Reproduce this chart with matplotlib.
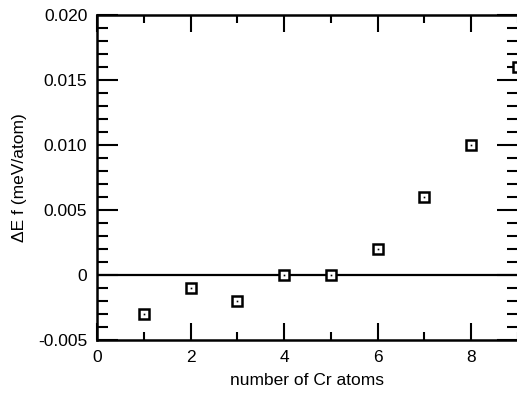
import matplotlib
matplotlib.use("Agg")
import matplotlib.pyplot as plt
from matplotlib.ticker import MultipleLocator, FixedFormatter, FixedLocator

# data
n_cr = [1, 2, 3, 4, 5, 6, 7, 8, 9]
delta_ef = [-0.003, -0.001, -0.002, 0.0, 0.0, 0.002, 0.006, 0.010, 0.016]

y_ticks = [-0.005, 0.0, 0.005, 0.010, 0.015, 0.020]
y_labels = ["-0.005", "0", "0.005", "0.010", "0.015", "0.020"]
x_ticks = [0, 2, 4, 6, 8]

plt.rcParams['font.family'] = ['Liberation Sans', 'DejaVu Sans']

W, H = 517, 399
fig = plt.figure(figsize=(W / 100, H / 100), dpi=100)
ax = fig.add_axes([97 / W, (H - 340) / H, (518 - 97) / W, 325 / H])

ax.axhline(0, color='black', lw=1.6, zorder=1)
ax.plot(n_cr, delta_ef, ls='none', marker='s', ms=6.5, mfc='white',
        mec='black', mew=1.8, clip_on=False, zorder=3)
ax.plot(n_cr, delta_ef, ls='none', marker='s', ms=1.2, mfc='black',
        mec='black', mew=0, clip_on=False, zorder=4)

ax.set_xlim(0, 9)
ax.set_ylim(-0.005, 0.020)

ax.yaxis.set_major_locator(FixedLocator(y_ticks))
ax.yaxis.set_major_formatter(FixedFormatter(y_labels))
ax.yaxis.set_minor_locator(MultipleLocator(0.001))
ax.xaxis.set_major_locator(FixedLocator(x_ticks))
ax.xaxis.set_minor_locator(MultipleLocator(1))

ax.tick_params(axis='both', which='both', direction='in', top=True,
               right=True, width=1.5, labelsize=12.5, pad=7)
ax.tick_params(axis='y', which='major', length=15)
ax.tick_params(axis='y', which='minor', length=8)
ax.tick_params(axis='x', which='major', length=12)
ax.tick_params(axis='x', which='minor', length=6)

for s in ax.spines.values():
    s.set_linewidth(1.8)

ax.set_xlabel("number of Cr atoms", fontsize=12.5, labelpad=6)
ax.set_ylabel("ΔE f (meV/atom)", fontsize=12.5, labelpad=8)

fig.savefig("out.png", dpi=100)
